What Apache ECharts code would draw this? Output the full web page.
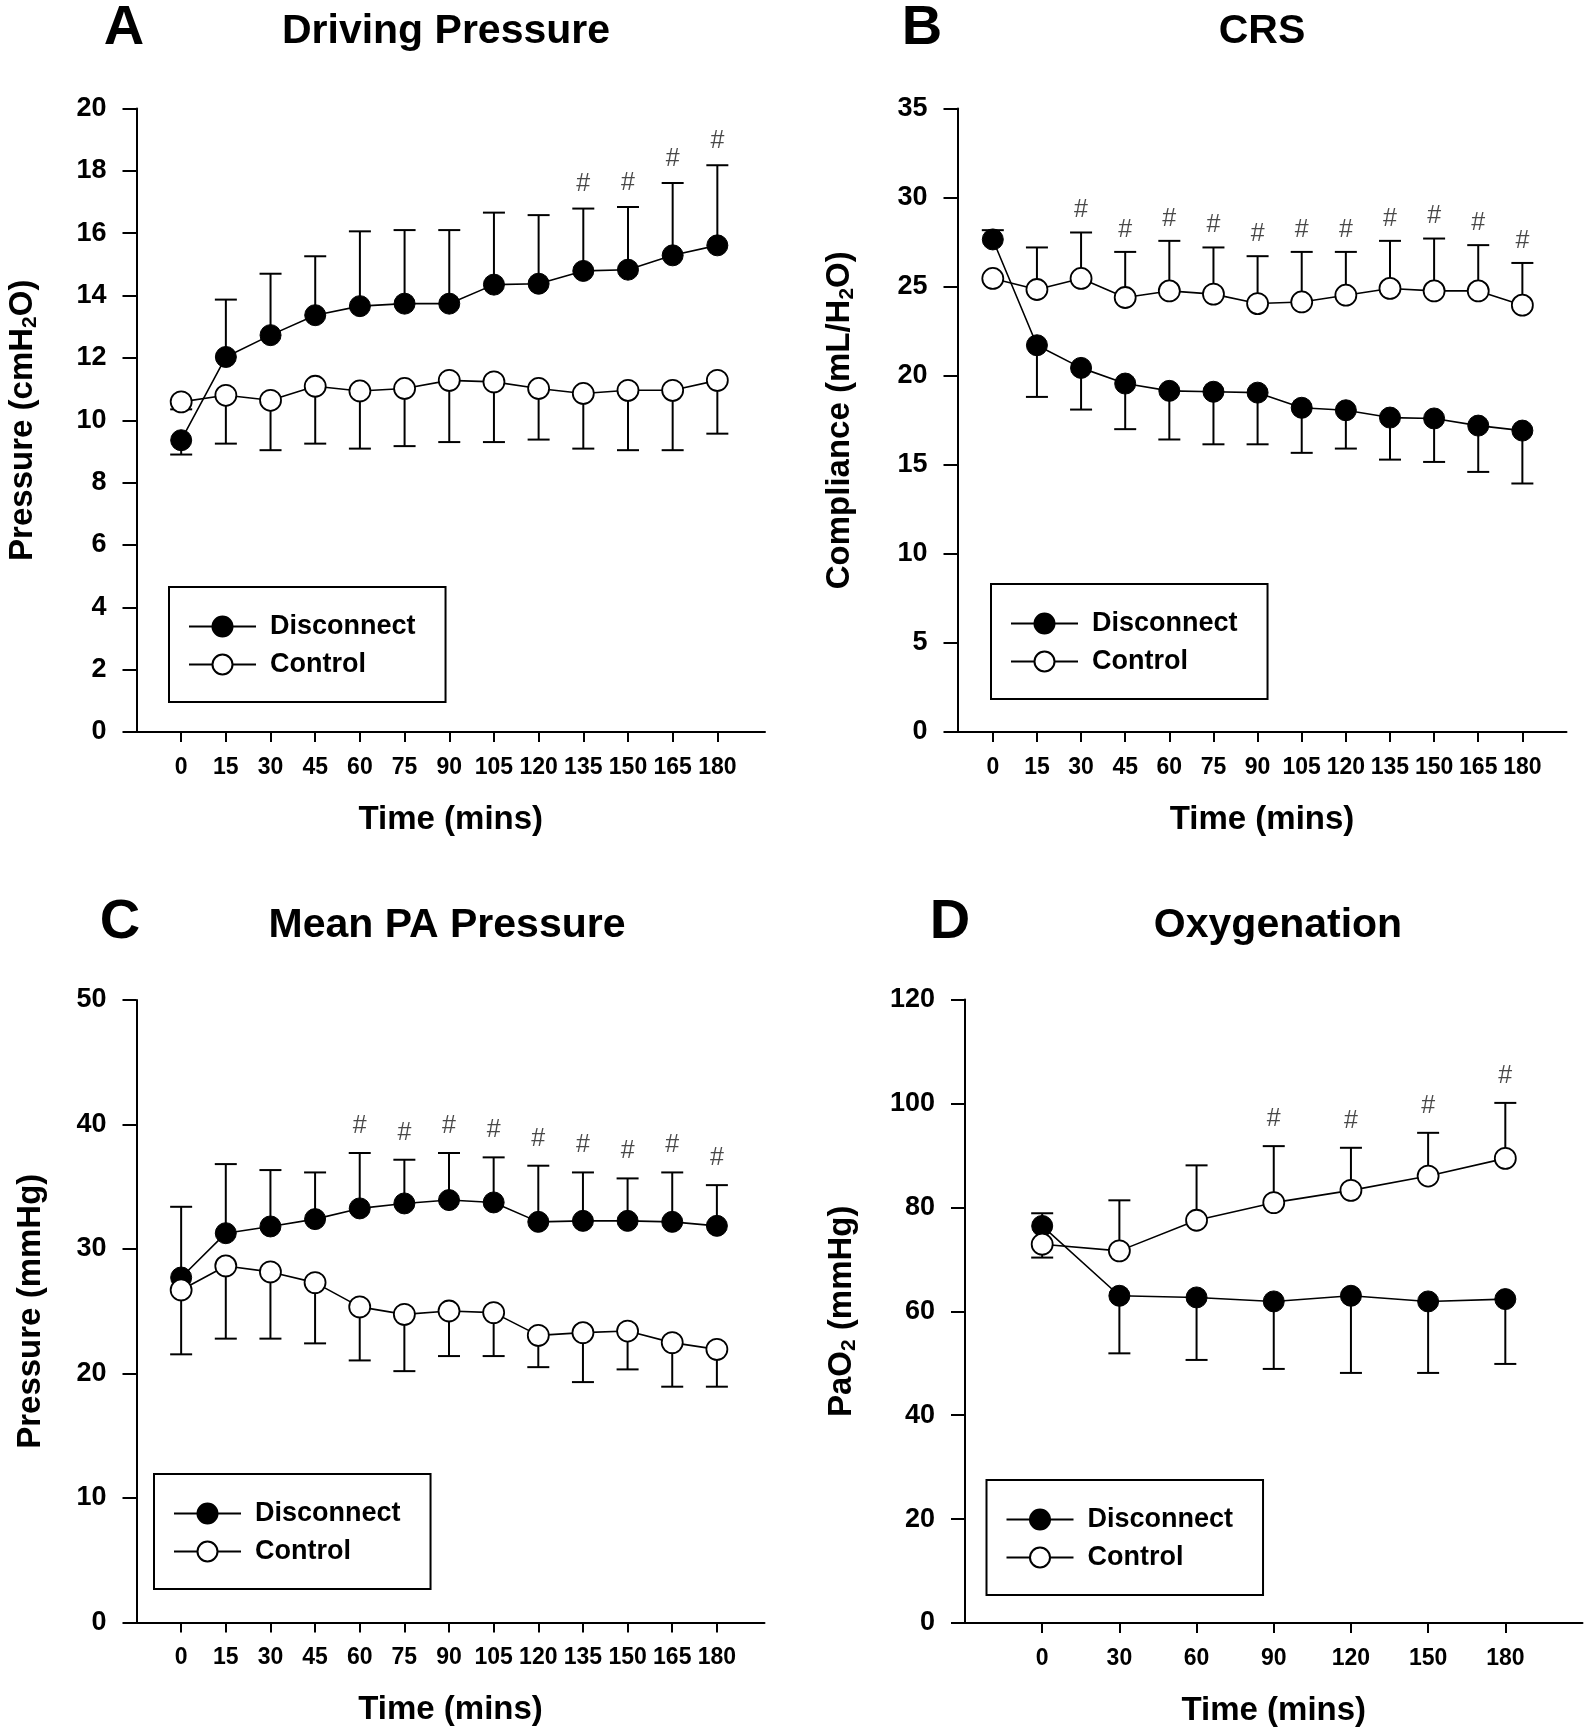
<!DOCTYPE html>
<html lang="en">
<head>
<meta charset="UTF-8">
<script src="https://cdn.jsdelivr.net/npm/echarts@6/dist/echarts.min.js"></script>
<style>
    html, body { margin: 0; padding: 0; background: #fff; }
    #chart { width: 1594px; height: 1731px; }
</style>
</head>
<body>
<div id="chart"></div>
<script>
    // time points
    var time15 = [0, 15, 30, 45, 60, 75, 90, 105, 120, 135, 150, 165, 180];
    var time30 = [0, 30, 60, 90, 120, 150, 180];

    // A - driving pressure (mean and end of the SD bar)
    var dpDisconnect    = [9.36, 12.03, 12.73, 13.37, 13.66, 13.74, 13.74, 14.35, 14.38, 14.79, 14.83, 15.29, 15.61];
    var dpDisconnectErr = [8.9, 13.87, 14.7, 15.26, 16.06, 16.1, 16.1, 16.66, 16.58, 16.79, 16.84, 17.61, 18.18];
    var dpControl       = [10.59, 10.8, 10.64, 11.09, 10.94, 11.02, 11.28, 11.23, 11.02, 10.86, 10.96, 10.96, 11.28];
    var dpControlErr    = [10.35, 9.25, 9.04, 9.25, 9.09, 9.17, 9.3, 9.3, 9.38, 9.09, 9.04, 9.04, 9.57];
    var dpSig = [135, 150, 165, 180];

    // B - CRS
    var crsDisconnect    = [27.65, 21.71, 20.44, 19.56, 19.15, 19.1, 19.05, 18.2, 18.06, 17.65, 17.6, 17.2, 16.92];
    var crsDisconnectErr = [28.17, 18.81, 18.1, 17.0, 16.42, 16.15, 16.15, 15.67, 15.91, 15.29, 15.16, 14.6, 13.95];
    var crsControl       = [25.46, 24.84, 25.46, 24.39, 24.76, 24.58, 24.05, 24.14, 24.52, 24.9, 24.76, 24.76, 23.96];
    var crsControlErr    = [null, 27.2, 28.04, 26.95, 27.57, 27.2, 26.71, 26.95, 26.95, 27.57, 27.7, 27.33, 26.33];
    var crsSig = [30, 45, 60, 75, 90, 105, 120, 135, 150, 165, 180];

    // C - mean PA pressure
    var papDisconnect    = [27.71, 31.27, 31.81, 32.4, 33.26, 33.66, 33.93, 33.74, 32.18, 32.26, 32.26, 32.18, 31.86];
    var papDisconnectErr = [33.39, 36.82, 36.34, 36.15, 37.71, 37.17, 37.71, 37.36, 36.69, 36.15, 35.67, 36.15, 35.13];
    var papControl       = [26.71, 28.64, 28.16, 27.3, 25.35, 24.75, 25.02, 24.89, 23.06, 23.28, 23.41, 22.48, 21.94];
    var papControlErr    = [21.54, 22.8, 22.8, 22.42, 21.05, 20.19, 21.4, 21.4, 20.51, 19.31, 20.33, 18.94, 18.94];
    var papSig = [60, 75, 90, 105, 120, 135, 150, 165, 180];

    // D - oxygenation
    var oxDisconnect    = [76.42, 62.98, 62.66, 61.89, 62.98, 61.89, 62.34];
    var oxDisconnectErr = [78.86, 51.9, 50.63, 48.9, 48.13, 48.13, 49.86];
    var oxControl       = [72.9, 71.62, 77.51, 80.9, 83.27, 86.02, 89.42];
    var oxControlErr    = [70.33, 81.35, 88.08, 91.78, 91.46, 94.34, 100.1];
    var oxSig = [90, 120, 150, 180];

    var FONT = '"Liberation Sans", Arial, Helvetica, sans-serif';

    var panels = [
        { letter: 'A', title: 'Driving Pressure', yName: 'Pressure (cmH{s|2}O)',
          time: time15, dis: dpDisconnect, disErr: dpDisconnectErr, con: dpControl, conErr: dpControlErr,
          sig: dpSig, sigOn: 'dis', hashGap: 11,
          grid: [136.5, 108.5, 628.5, 623.5], xMin: -15, xMax: 196, yMax: 20, yStep: 2, nameGap: 96,
          letterX: 124, titleX: 446, headY: 29, legend: [169, 587] },
        { letter: 'B', title: 'CRS', yName: 'Compliance (mL/H{s|2}O)',
          time: time15, dis: crsDisconnect, disErr: crsDisconnectErr, con: crsControl, conErr: crsControlErr,
          sig: crsSig, sigOn: 'con', hashGap: 9,
          grid: [957.5, 108.5, 609, 623.5], xMin: -12, xMax: 195, yMax: 35, yStep: 5, nameGap: 100,
          letterX: 922, titleX: 1262, headY: 29, legend: [991, 584] },
        { letter: 'C', title: 'Mean PA Pressure', yName: 'Pressure (mmHg)',
          time: time15, dis: papDisconnect, disErr: papDisconnectErr, con: papControl, conErr: papControlErr,
          sig: papSig, sigOn: 'dis', hashGap: 14,
          grid: [136.5, 1000, 628, 622.5], xMin: -15, xMax: 196, yMax: 50, yStep: 10, nameGap: 88,
          letterX: 120, titleX: 447, headY: 923, legend: [154, 1474] },
        { letter: 'D', title: 'Oxygenation', yName: 'PaO{s|2} (mmHg)',
          time: time30, dis: oxDisconnect, disErr: oxDisconnectErr, con: oxControl, conErr: oxControlErr,
          sig: oxSig, sigOn: 'con', hashGap: 14,
          grid: [965, 999.5, 617.5, 623.5], xMin: -30, xMax: 210, yMax: 120, yStep: 20, nameGap: 105,
          letterX: 950, titleX: 1278, headY: 923, legend: [986.5, 1480] }
    ];

    // vertical SD bar with a cap at its end
    function errRender(params, api) {
        var p = api.coord([api.value(0), api.value(1)]);
        var c = api.coord([api.value(0), api.value(2)]);
        var st = { stroke: '#000', lineWidth: 2 };
        return {
            type: 'group',
            children: [
                { type: 'line', shape: { x1: p[0], y1: p[1], x2: c[0], y2: c[1] }, style: st },
                { type: 'line', shape: { x1: c[0] - 11, y1: c[1], x2: c[0] + 11, y2: c[1] }, style: st }
            ]
        };
    }

    function zip(xs, ys) {
        return xs.map(function (x, j) { return [x, ys[j]]; });
    }
    function errData(xs, ys, caps) {
        var out = [];
        xs.forEach(function (x, j) {
            if (caps[j] != null) out.push([x, ys[j], caps[j]]);
        });
        return out;
    }

    var axisLineStyle = { color: '#000', width: 2 };
    var grids = [], xAxes = [], yAxes = [], series = [], legends = [], graphics = [];

    panels.forEach(function (p, i) {
        grids.push({ left: p.grid[0], top: p.grid[1], width: p.grid[2], height: p.grid[3], outerBoundsMode: 'none', containLabel: false });

        xAxes.push({
            gridIndex: i, type: 'value', min: p.xMin, max: p.xMax,
            name: 'Time (mins)', nameLocation: 'middle', nameGap: 71,
            nameTextStyle: { fontFamily: FONT, fontSize: 33, fontWeight: 'bold', color: '#000' },
            axisLine: { show: true, onZero: false, lineStyle: axisLineStyle },
            axisTick: { show: true, customValues: p.time, length: 10, lineStyle: axisLineStyle },
            axisLabel: { customValues: p.time, margin: 24, fontFamily: FONT, fontSize: 23, fontWeight: 'bold', color: '#000' },
            splitLine: { show: false }
        });

        yAxes.push({
            gridIndex: i, type: 'value', min: 0, max: p.yMax, interval: p.yStep,
            name: p.yName, nameLocation: 'middle', nameGap: p.nameGap,
            nameTextStyle: {
                fontFamily: FONT, fontSize: 33, fontWeight: 'bold', color: '#000', lineHeight: 36,
                rich: { s: { fontFamily: FONT, fontSize: 21, fontWeight: 'bold', color: '#000', lineHeight: 21, verticalAlign: 'bottom' } }
            },
            axisLine: { show: true, onZero: false, lineStyle: axisLineStyle },
            axisTick: { show: true, length: 14, lineStyle: axisLineStyle },
            axisLabel: { margin: 30, fontFamily: FONT, fontSize: 27, fontWeight: 'bold', color: '#000' },
            splitLine: { show: false }
        });

        series.push({
            type: 'custom', xAxisIndex: i, yAxisIndex: i, renderItem: errRender, z: 1, silent: true,
            encode: { x: 0, y: [1, 2] }, data: errData(p.time, p.dis, p.disErr)
        });
        series.push({
            type: 'custom', xAxisIndex: i, yAxisIndex: i, renderItem: errRender, z: 1, silent: true,
            encode: { x: 0, y: [1, 2] }, data: errData(p.time, p.con, p.conErr)
        });
        series.push({
            name: 'Disconnect', type: 'line', xAxisIndex: i, yAxisIndex: i, z: 3,
            data: zip(p.time, p.dis), symbol: 'circle', symbolSize: 21,
            itemStyle: { color: '#000', borderColor: '#000', borderWidth: 1 },
            lineStyle: { color: '#000', width: 1.6 }
        });
        series.push({
            name: 'Control', type: 'line', xAxisIndex: i, yAxisIndex: i, z: 4,
            data: zip(p.time, p.con), symbol: 'circle', symbolSize: 21,
            itemStyle: { color: '#fff', borderColor: '#000', borderWidth: 1.8 },
            lineStyle: { color: '#000', width: 1.6 }
        });

        var top = p.sigOn === 'dis' ? p.disErr : p.conErr;
        series.push({
            type: 'scatter', xAxisIndex: i, yAxisIndex: i, z: 5, silent: true,
            symbolSize: 1, itemStyle: { color: 'rgba(0,0,0,0)' },
            data: p.sig.map(function (t) { return [t, top[p.time.indexOf(t)]]; }),
            label: { show: true, position: 'top', distance: p.hashGap, formatter: '#',
                     fontFamily: FONT, fontSize: 25, color: '#1a1a1a' }
        });

        legends.push({
            orient: 'vertical', left: p.legend[0], top: p.legend[1],
            data: ['Disconnect', 'Control'], selectedMode: false,
            itemWidth: 67, itemHeight: 25, itemGap: 11,
            padding: [26, 30, 24, 19],
            borderColor: '#000', borderWidth: 2, borderRadius: 0, backgroundColor: '#fff',
            textStyle: { fontFamily: FONT, fontSize: 27, fontWeight: 'bold', color: '#000', lineHeight: 25, padding: [0, 0, 0, 9] }
        });

        graphics.push({
            type: 'text', x: p.letterX, y: p.headY,
            style: { text: p.letter, font: 'bold 56px ' + FONT, fill: '#000', textAlign: 'center', textVerticalAlign: 'middle' }
        });
        graphics.push({
            type: 'text', x: p.titleX, y: p.headY + 3,
            style: { text: p.title, font: 'bold 41px ' + FONT, fill: '#000', textAlign: 'center', textVerticalAlign: 'middle' }
        });
    });

    var chart = echarts.init(document.getElementById('chart'));
    chart.setOption({
        backgroundColor: '#fff',
        animation: false,
        grid: grids,
        xAxis: xAxes,
        yAxis: yAxes,
        legend: legends,
        graphic: graphics,
        series: series
    });
</script>
</body>
</html>
